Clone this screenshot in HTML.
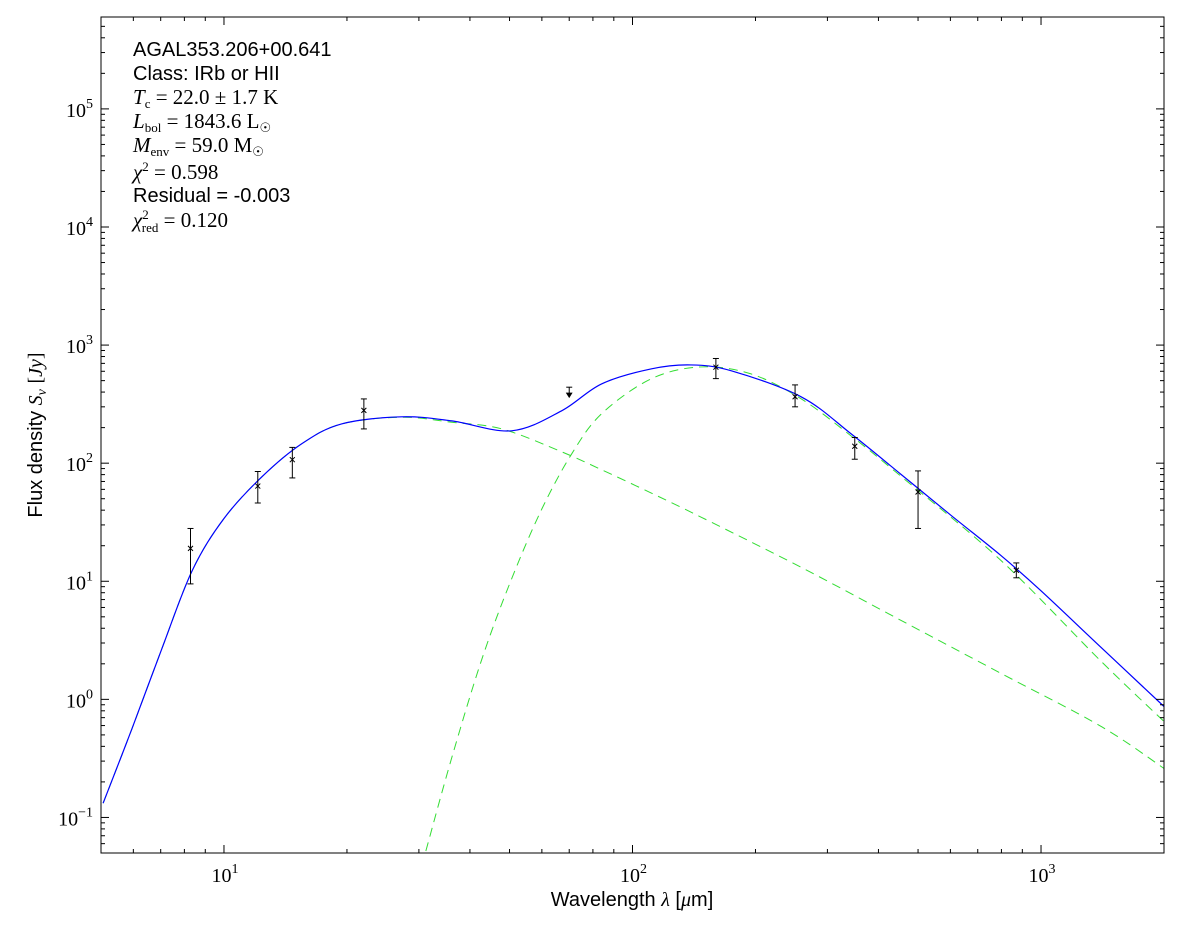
<!DOCTYPE html>
<html><head><meta charset="utf-8"><style>
body{margin:0;background:#fff;}
svg text{font-family:"Liberation Sans",sans-serif;}
.serif{font-family:"Liberation Serif",serif !important;}
</style></head><body>
<svg id="chart" width="1200" height="933" xmlns="http://www.w3.org/2000/svg"></svg>
<script>
const pointWl=[8.28,12.1,14.7,22,160,250,350,500,870];
const pointFlux=[19,64,107,280,650,365,139,57,12.4];
const pointHi=[28,85,136,350,770,460,165,86,14.3];
const pointLo=[9.5,46,75,195,520,300,108,28,10.7];
const limitWl=[70];
const limitFlux=[440];
const totalWl=[5.06,5.96,7.05,8.36,10,12.4,15.5,19.4,27.2,36.1,50.6,67,84,111,139,175,259,343,455,603,798,1000,1403,2000];
const totalFlux=[0.132,0.57,2.7,12.3,34,77,146,215,247,228,188,277,469,628,679,604,364,177,80,36,16.5,8.3,2.75,0.87];
const warmWl=[5.06,5.96,7.05,8.36,10,12.4,15.5,19.4,27.2,36.1,47.9,67,84,111,147,259,455,798,1403,2000];
const warmFlux=[0.132,0.57,2.7,12.3,34,77,146,215,245,222,195,125,88,56,35,13.1,4.65,1.66,0.59,0.26];
const coldWl=[31.2,36.1,42.8,50.6,60,71,84,111,147,195,259,343,455,798,1403,2000];
const coldFlux=[0.052,0.32,2.2,10.5,41,120,262,517,653,570,350,170,77,15,2.1,0.65];
const xTicks=[1,2,3];
const yTicks=[-1,0,1,2,3,4,5];

const L=101,R=1164,T=17,B=853;
const xmin=Math.log10(5),xmax=Math.log10(2000),ymin=Math.log10(0.05),ymax=Math.log10(6e5);
const X=v=>L+(Math.log10(v)-xmin)/(xmax-xmin)*(R-L);
const Y=v=>B-(Math.log10(v)-ymin)/(ymax-ymin)*(B-T);
const svg=document.getElementById('chart');
const NS='http://www.w3.org/2000/svg';
function mk(tag,attrs,parent){const e=document.createElementNS(NS,tag);for(const k in attrs)e.setAttribute(k,attrs[k]);(parent||svg).appendChild(e);return e;}

const clip=mk('clipPath',{id:'pc'});mk('rect',{x:L,y:T,width:R-L,height:B-T},clip);

function smooth(ws,fs){
  const p=ws.map((w,i)=>[X(w),Y(fs[i])]);
  let d='M'+p[0][0]+','+p[0][1];
  for(let i=0;i<p.length-1;i++){
    const p0=p[i-1]||p[i],p1=p[i],p2=p[i+1],p3=p[i+2]||p[i+1];
    const c1=[p1[0]+(p2[0]-p0[0])/6,p1[1]+(p2[1]-p0[1])/6];
    const c2=[p2[0]-(p3[0]-p1[0])/6,p2[1]-(p3[1]-p1[1])/6];
    d+=`C${c1[0]},${c1[1]} ${c2[0]},${c2[1]} ${p2[0]},${p2[1]}`;
  }
  return d;
}
const g=mk('g',{'clip-path':'url(#pc)'});
const w1=mk('path',{d:smooth(warmWl,warmFlux),fill:'none',stroke:'#33dd33','stroke-width':1,'stroke-dasharray':'9,6'},g);


const c1=mk('path',{d:smooth(coldWl,coldFlux),fill:'none',stroke:'#33dd33','stroke-width':1,'stroke-dasharray':'9,6'},g);


const t1=mk('path',{d:smooth(totalWl,totalFlux),fill:'none',stroke:'#0000ff','stroke-width':1.2},g);



pointWl.forEach((w,i)=>{
  const x=X(w),y=Y(pointFlux[i]),yh=Y(pointHi[i]),yl=Y(pointLo[i]);
  const pg=mk('g',{stroke:'#000','stroke-width':1});
  
  
  mk('line',{x1:x,x2:x,y1:yh,y2:yl},pg);
  mk('line',{x1:x-3,x2:x+3,y1:yh,y2:yh},pg);
  mk('line',{x1:x-3,x2:x+3,y1:yl,y2:yl},pg);
  mk('path',{d:`M${x-2.5},${y-2.5}L${x+2.5},${y+2.5}M${x-2.5},${y+2.5}L${x+2.5},${y-2.5}`},pg);
});
limitWl.forEach((w,i)=>{
  const x=X(w),y=Y(limitFlux[i]);
  const lg=mk('g',{stroke:'#000','stroke-width':1});
  
  
  mk('line',{x1:x-3,x2:x+3,y1:y,y2:y},lg);
  mk('line',{x1:x,x2:x,y1:y,y2:y+9},lg);
  mk('path',{d:`M${x-2.5},${y+6}L${x},${y+10}L${x+2.5},${y+6}Z`,fill:'#000'},lg);
});

const fr=mk('rect',{x:L,y:T,width:R-L,height:B-T,fill:'none',stroke:'#000','stroke-width':1});


const tk=mk('g',{stroke:'#000','stroke-width':1});
for(let e=0;e<=3;e++)for(let m=1;m<10;m++){
  const v=m*Math.pow(10,e);if(v<5||v>2000)continue;
  const x=X(v),len=m===1?8:4;
  mk('line',{x1:x,x2:x,y1:B,y2:B-len},tk);mk('line',{x1:x,x2:x,y1:T,y2:T+len},tk);
}
for(let e=-2;e<=5;e++)for(let m=1;m<10;m++){
  const v=m*Math.pow(10,e);if(v<0.05||v>6e5)continue;
  const y=Y(v),len=m===1?8:4;
  mk('line',{x1:L,x2:L+len,y1:y,y2:y},tk);mk('line',{x1:R,x2:R-len,y1:y,y2:y},tk);
}
xTicks.forEach(e=>{
  const t=mk('text',{x:X(Math.pow(10,e))+1,y:B+29,'font-size':20,'text-anchor':'middle',class:'serif'});
  
  
  t.innerHTML=`10<tspan dy="-9" font-size="14">${e}</tspan>`;
});
yTicks.forEach(e=>{
  const t=mk('text',{x:L-8,y:Y(Math.pow(10,e))+8,'font-size':20,'text-anchor':'end',class:'serif'});
  
  
  const s=e<0?'\u2212'+(-e):''+e;
  t.innerHTML=`10<tspan dy="-9" font-size="14">${s}</tspan><tspan dy="9" font-size="1"> </tspan>`;
});
const xl=mk('text',{x:632,y:906,'font-size':20,'text-anchor':'middle'});


xl.innerHTML='Wavelength <tspan class="serif" font-style="italic">λ</tspan> [<tspan class="serif" font-style="italic">μ</tspan>m]';
const yl=mk('text',{x:0,y:0,'font-size':20,'text-anchor':'middle',transform:'translate(42,435) rotate(-90)'});


yl.innerHTML='Flux density <tspan class="serif" font-style="italic">S<tspan font-size="14" dy="4">ν</tspan></tspan><tspan dy="-4"> </tspan><tspan class="serif">[<tspan font-style="italic">Jy</tspan>]</tspan>';

const info=[
 [56,'AGAL353.206+00.641',false],
 [80,'Class: IRb or HII',false],
 [104,'<tspan font-style="italic">T</tspan><tspan font-size="13" dy="4">c</tspan><tspan dy="-4"> = 22.0 ± 1.7 K</tspan>',true],
 [128,'<tspan font-style="italic">L</tspan><tspan font-size="13" dy="4">bol</tspan><tspan dy="-4"> = 1843.6 L</tspan><tspan font-size="13" dy="4">☉</tspan>',true],
 [152,'<tspan font-style="italic">M</tspan><tspan font-size="13" dy="4">env</tspan><tspan dy="-4"> = 59.0 M</tspan><tspan font-size="13" dy="4">☉</tspan>',true],
 [179,'<tspan font-style="italic">χ</tspan><tspan font-size="13" dy="-8">2</tspan><tspan dy="8"> = 0.598</tspan>',true],
 [202,'Residual = -0.003',false],
 [227,'<tspan font-style="italic">χ</tspan><tspan font-size="13" dy="-8">2</tspan><tspan font-size="13" dx="-7" dy="13">red</tspan><tspan dy="-5"> = 0.120</tspan>',true]
];
info.forEach((r,i)=>{
  const t=mk('text',{x:133,y:r[0],'font-size':r[2]?21:20});
  if(r[2])t.setAttribute('class','serif');
  
  
  t.innerHTML=r[1];
});
</script>
</body></html>
